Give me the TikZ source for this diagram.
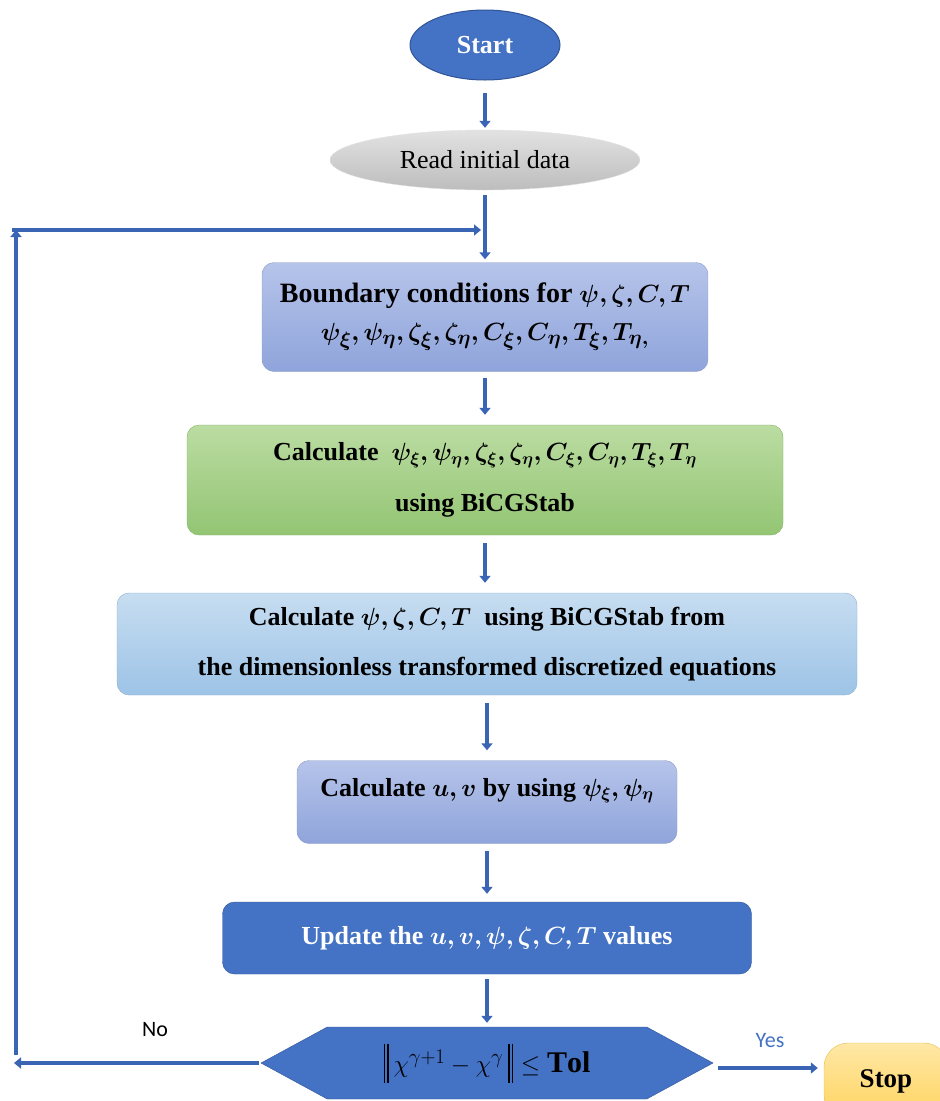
\documentclass[tikz,border=0pt]{standalone}
\usepackage{amsmath}
\usepackage{bm}
\usepackage{fontspec}
\setmainfont{Liberation Serif}
\newfontfamily\notefont{Carlito}
\usetikzlibrary{arrows.meta,shapes.geometric,shapes.symbols}
\definecolor{flowblue}{HTML}{4472C4}
\definecolor{flowdark}{HTML}{2F5597}
\definecolor{arrowblue}{HTML}{3A64B4}
\definecolor{lavtop}{HTML}{B6C4EA}
\definecolor{lavbot}{HTML}{8FA4DB}
\definecolor{greentop}{HTML}{BBDCA2}
\definecolor{greenbot}{HTML}{93C573}
\definecolor{skytop}{HTML}{C7DDF1}
\definecolor{skybot}{HTML}{9DC3E6}
\definecolor{graytop}{HTML}{E2E2E2}
\definecolor{graybot}{HTML}{BDBDBD}
\definecolor{stoptop}{HTML}{FFE8A6}
\definecolor{stopbot}{HTML}{FFD35E}
\newcommand{\normbar}{\rule[-0.32em]{1.3pt}{1.3em}\kern2.5pt\rule[-0.32em]{1.3pt}{1.3em}}

\begin{document}
\begin{tikzpicture}[x=1pt, y=-1pt,
    procbox/.style={rectangle, rounded corners=12pt, align=center, font=\fontsize{26}{31}\selectfont\bfseries},
    flowarrow/.style={draw=arrowblue, line width=3.5pt, -{Triangle[length=7pt,width=11pt]}},
    every node/.style={inner sep=2pt}]
  \useasboundingbox (0,0) rectangle (940,1101);

  % terminals
  \node[ellipse, fill=flowblue, draw=flowdark, line width=1pt, minimum width=150pt, minimum height=70pt,
        text=white, font=\fontsize{26}{30}\selectfont\bfseries] (start) at (485,45) {Start};
  \node[ellipse, top color=graytop, bottom color=graybot, draw=graytop, minimum width=310pt, minimum height=60pt,
        font=\fontsize{26}{30}\selectfont] (read) at (485,160) {Read initial data};

  % process boxes
  \node[procbox, top color=lavtop, bottom color=lavbot, draw=lavbot!80!black!60!lavtop,
        minimum width=446pt, minimum height=109pt, font=\fontsize{28}{32}\selectfont\bfseries] (bc) at (485,317)
    {Boundary conditions for $\bm{\psi,\zeta,C,T}$\\[6pt]
     $\bm{\psi_\xi,\psi_\eta,\zeta_\xi,\zeta_\eta,C_\xi,C_\eta,T_\xi,T_{\eta,}}$};
  \node[procbox, top color=greentop, bottom color=greenbot, draw=greenbot!90!black,
        minimum width=596pt, minimum height=110pt] (calcd) at (485,480)
    {Calculate\ \ $\bm{\psi_\xi,\psi_\eta,\zeta_\xi,\zeta_\eta,C_\xi,C_\eta,T_\xi,T_\eta}$\\[20pt]
     using BiCGStab};
  \node[procbox, top color=skytop, bottom color=skybot, draw=skybot!90!black,
        minimum width=740pt, minimum height=102pt] (calcp) at (487,644)
    {Calculate $\bm{\psi,\zeta,C,T}$\ \ using BiCGStab from\\[19pt]
     the dimensionless transformed discretized equations};
  \node[procbox, top color=lavtop, bottom color=lavbot, draw=lavbot!80!black!60!lavtop,
        minimum width=380pt, minimum height=83pt, text depth=30pt] (calcuv) at (487,802)
    {Calculate $\bm{u,v}$ by using $\bm{\psi_\xi,\psi_\eta}$};
  \node[procbox, fill=flowblue, draw=flowdark, text=white,
        minimum width=529pt, minimum height=72pt] (update) at (487,938)
    {Update the $\bm{u,v,\psi,\zeta,C,T}$ values};

  % decision
  \node[signal, signal to=west and east, signal pointer angle=57, fill=flowblue, draw=flowdark,
        minimum width=452pt, minimum height=72pt, font=\fontsize{30}{34}\selectfont\bfseries] (check) at (487,1063)
    {\normbar\,$\chi^{\gamma+1}-\chi^{\gamma}$\,\normbar\ $\le\mathbf{Tol}$};
  \node[rectangle, rounded corners=24pt, top color=stoptop, bottom color=stopbot, draw=stopbot!90!black,
        minimum width=124pt, minimum height=76pt, font=\fontsize{27}{30}\selectfont\bfseries] (stop) at (886,1081) {Stop};

  \node[font=\notefont\fontsize{22}{26}\selectfont] (no) at (155,1030) {No};
  \node[font=\notefont\fontsize{22}{26}\selectfont, text=flowblue] (yes) at (770,1041) {Yes};

  % main flow
  \draw[flowarrow] ([yshift=-12pt]start.south) -- ([yshift=2pt]read.north);
  \draw[flowarrow] ([yshift=-5pt]read.south) -- ([yshift=3pt]bc.north);
  \draw[flowarrow] ([yshift=-6pt]bc.south) -- ([yshift=10pt]calcd.north);
  \draw[flowarrow] ([yshift=-8pt]calcd.south) coordinate (gA)
    -- ([yshift=10pt]gA |- calcp.north);
  \draw[flowarrow] ([yshift=-8pt]calcp.south) -- ([yshift=10pt]calcuv.north);
  \draw[flowarrow] ([yshift=-7pt]calcuv.south) -- ([yshift=8pt]update.north);
  \draw[flowarrow] ([yshift=-5pt]update.south) -- ([yshift=4pt]check.north);
  \draw[flowarrow] ([xshift=5pt,yshift=-5pt]check.east) coordinate (yesA)
    -- ([xshift=-6pt]yesA -| stop.west);

  % loop back
  \coordinate (loopB) at (14,1063);
  \coordinate (loopT) at (16,230);
  \coordinate (join) at (481,230);
  \draw[flowarrow] ([xshift=-2pt]check.west) -- (loopB);
  \draw[flowarrow] (16,1055) -- (loopT);
  \draw[flowarrow] (12,230) -- (join);
\end{tikzpicture}
\end{document}
